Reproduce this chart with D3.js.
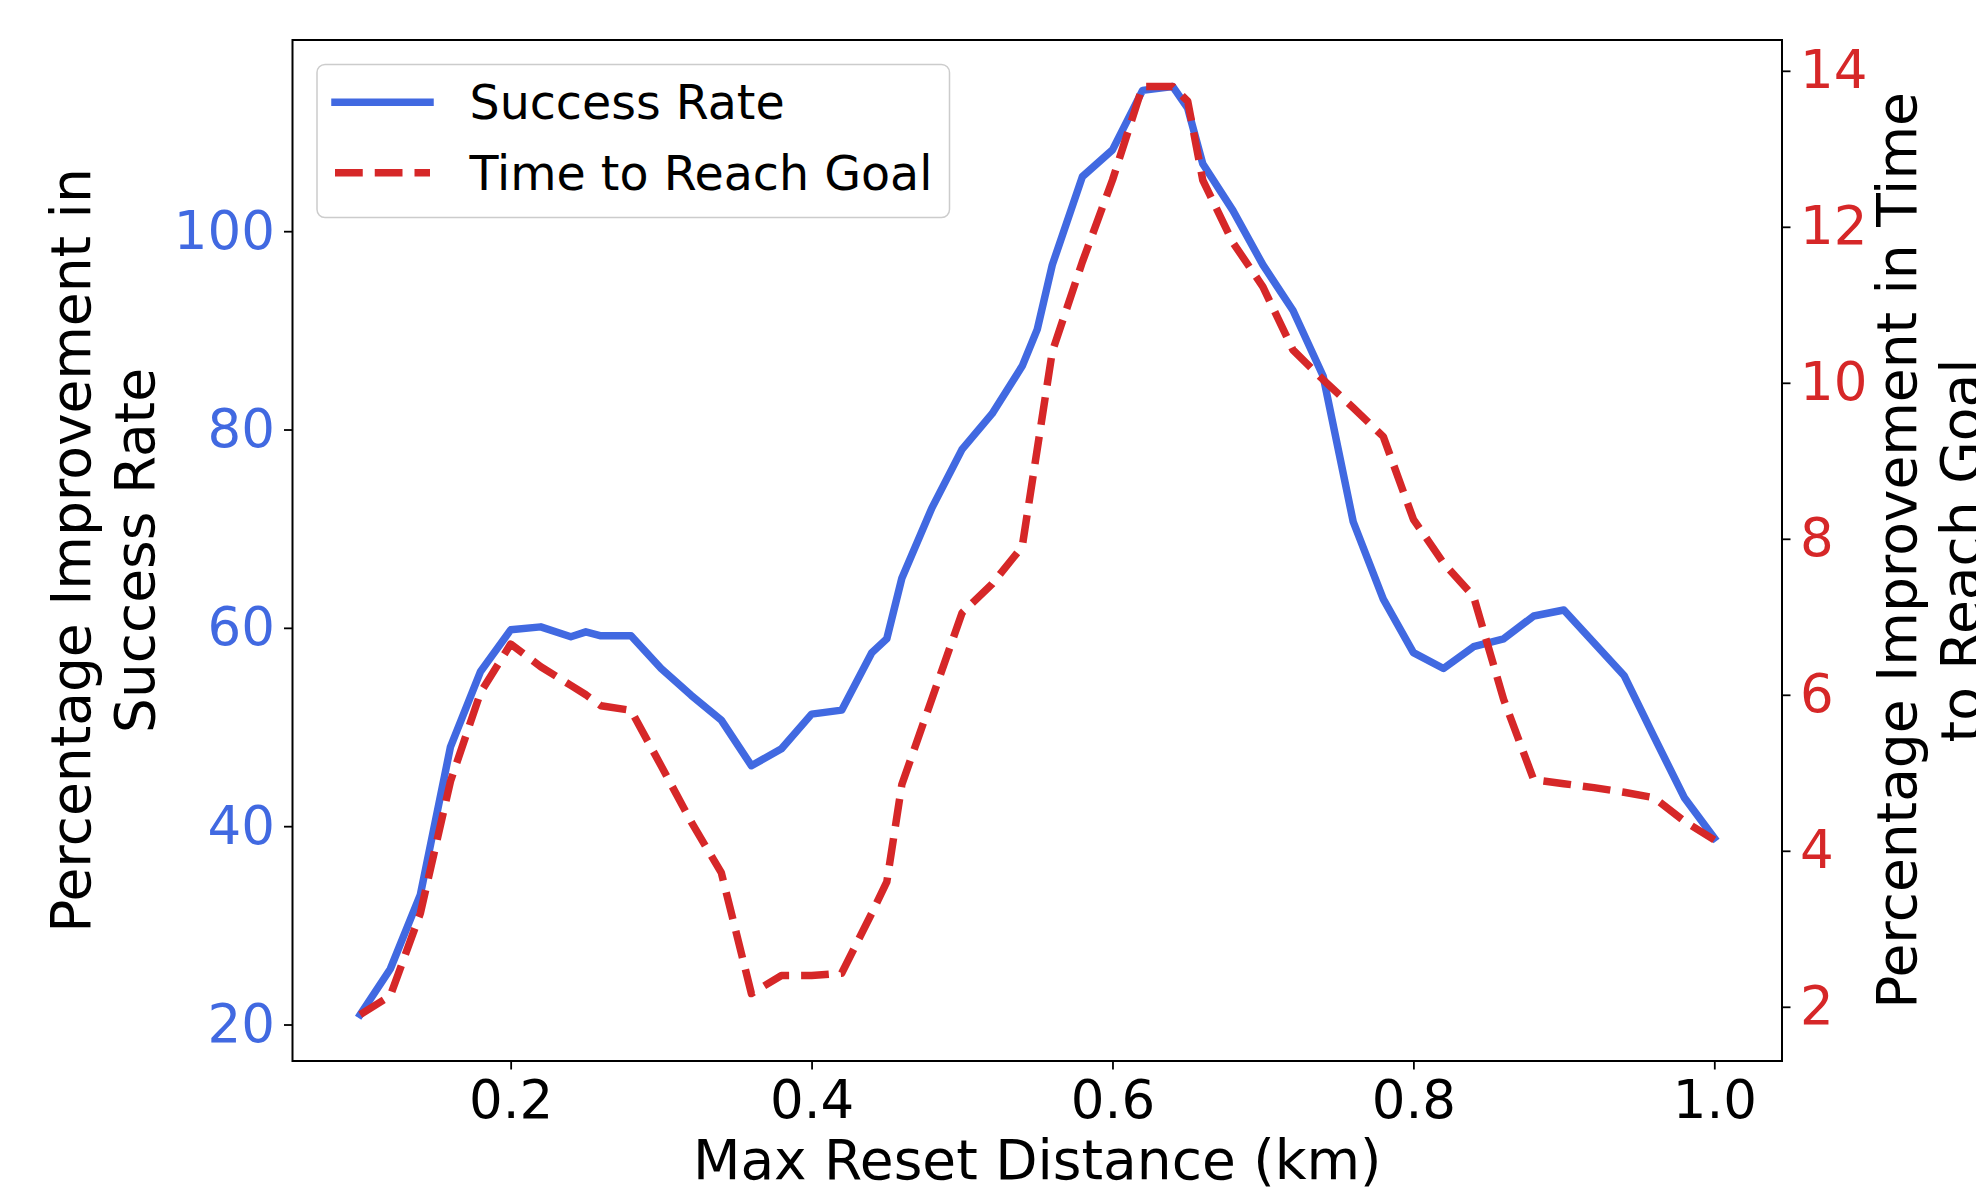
<!DOCTYPE html>
<html>
<head>
<meta charset="utf-8">
<script src="https://cdn.jsdelivr.net/npm/d3@7"></script>
<style>
  body { margin: 0; background: #fff; }
  svg { display: block; }
  text { font-family: "DejaVu Sans", sans-serif; }
</style>
</head>
<body>
<div id="chart-area"></div>
<script>
// values
const distances = [0.10, 0.12, 0.14, 0.16, 0.18, 0.20, 0.22, 0.24, 0.25, 0.26,
  0.28, 0.30, 0.32, 0.34, 0.36, 0.38, 0.40, 0.42, 0.44, 0.45,
  0.46, 0.48, 0.50, 0.52, 0.54, 0.55, 0.56, 0.58, 0.60, 0.62,
  0.64, 0.65, 0.66, 0.68, 0.70, 0.72, 0.74, 0.76, 0.78, 0.80,
  0.82, 0.84, 0.86, 0.88, 0.90, 0.92, 0.94, 0.96, 0.98, 1.00]

const successRate = [21.0, 25.6, 33.1, 48.0, 55.6, 59.8, 60.1, 59.1, 59.6, 59.2,
  59.2, 55.9, 53.2, 50.7, 46.1, 47.8, 51.3, 51.7, 57.5, 58.9,
  65.0, 72.1, 78.0, 81.6, 86.4, 90.1, 96.6, 105.5, 108.2, 114.2,
  114.6, 112.4, 106.8, 102.1, 96.6, 92.0, 85.4, 70.7, 62.9, 57.5,
  55.9, 58.1, 58.9, 61.2, 61.8, 58.5, 55.2, 49.0, 42.9, 38.8]

const timeToGoal = [1.90, 2.14, 3.20, 4.89, 6.03, 6.65, 6.36, 6.12, 6.00, 5.86,
  5.80, 5.09, 4.37, 3.72, 2.17, 2.40, 2.40, 2.43, 3.20, 3.60,
  4.85, 5.95, 7.05, 7.42, 7.90, 9.15, 10.40, 11.55, 12.60, 13.80,
  13.80, 13.61, 12.60, 11.80, 11.23, 10.42, 10.04, 9.68, 9.31, 8.25,
  7.69, 7.26, 5.94, 4.91, 4.86, 4.81, 4.75, 4.68, 4.38, 4.14]

const xTicks = [0.2, 0.4, 0.6, 0.8, 1.0]
const leftTicks = [20, 40, 60, 80, 100]
const rightTicks = [2, 4, 6, 8, 10, 12, 14]

const blue = "#4169e1"
const red = "#d62728"

const W = 1976, H = 1198
const plotL = 292.5, plotR = 1782, plotT = 40, plotB = 1061

// matplotlib style 5% padding
const pad = (arr) => {
  let lo = d3.min(arr), hi = d3.max(arr), r = hi - lo
  return [lo - 0.05 * r, hi + 0.05 * r]
}

let svg = d3.select("#chart-area").append("svg")
  .attr("width", W)
  .attr("height", H)

let x = d3.scaleLinear().domain(pad(distances)).range([plotL, plotR])
let yL = d3.scaleLinear().domain(pad(successRate)).range([plotB, plotT])
let yR = d3.scaleLinear().domain(pad(timeToGoal)).range([plotB, plotT])

const styleAxis = (g, color, size) => {
  g.select(".domain").remove()
  g.selectAll(".tick line").attr("stroke", "#000").attr("stroke-width", 1.8)
  g.selectAll(".tick text")
    .attr("fill", color)
    .style("font-size", size + "px")
    .style("font-family", "DejaVu Sans")
}

svg.append("g")
  .attr("transform", `translate(0,${plotB})`)
  .call(d3.axisBottom(x).tickValues(xTicks).tickFormat(d3.format(".1f")).tickSize(8.5).tickPadding(10.5))
  .call(g => styleAxis(g, "#000", 53))

svg.append("g")
  .attr("transform", `translate(${plotL},0)`)
  .call(d3.axisLeft(yL).tickValues(leftTicks).tickSize(8.5).tickPadding(9))
  .call(g => styleAxis(g, blue, 53))

svg.append("g")
  .attr("transform", `translate(${plotR},0)`)
  .call(d3.axisRight(yR).tickValues(rightTicks).tickSize(8.5).tickPadding(9.5))
  .call(g => styleAxis(g, red, 53))

// lines
let lineL = d3.line().x((d, i) => x(distances[i])).y(d => yL(d))
let lineR = d3.line().x((d, i) => x(distances[i])).y(d => yR(d))

svg.append("path")
  .datum(successRate)
  .attr("d", lineL)
  .attr("fill", "none")
  .attr("stroke", blue)
  .attr("stroke-width", 7.5)
  .attr("stroke-linejoin", "round")
  .attr("stroke-linecap", "square")

svg.append("path")
  .datum(timeToGoal)
  .attr("d", lineR)
  .attr("fill", "none")
  .attr("stroke", red)
  .attr("stroke-width", 7.5)
  .attr("stroke-linejoin", "round")
  .attr("stroke-dasharray", "27.75,12")

// frame
svg.append("rect")
  .attr("x", plotL)
  .attr("y", plotT)
  .attr("width", plotR - plotL)
  .attr("height", plotB - plotT)
  .attr("fill", "none")
  .attr("stroke", "#000")
  .attr("stroke-width", 2)

// axis titles
svg.append("text")
  .attr("x", (plotL + plotR) / 2)
  .attr("y", 1179)
  .attr("text-anchor", "middle")
  .style("font-size", "55px")
  .text("Max Reset Distance (km)")

const vLabel = (lines, xs) => {
  lines.forEach((t, i) => {
    svg.append("text")
      .attr("transform", `translate(${xs[i]},${(plotT + plotB) / 2}) rotate(-90)`)
      .attr("text-anchor", "middle")
      .style("font-size", "55px")
      .text(t)
  })
}
vLabel(["Percentage Improvement in", "Success Rate"], [90, 154])
// second line runs off the right edge, as in the original figure
vLabel(["Percentage Improvement in Time", "to Reach Goal"], [1916, 1980])

// legend
let legend = svg.append("g")
legend.append("rect")
  .attr("x", 317).attr("y", 64.5)
  .attr("width", 632.5).attr("height", 153)
  .attr("rx", 8)
  .attr("fill", "#fff").attr("fill-opacity", 0.8)
  .attr("stroke", "#cccccc").attr("stroke-width", 1.5)

const legendItems = [
  { name: "Success Rate", color: blue, dash: null, cap: "square", y: 102.3 },
  { name: "Time to Reach Goal", color: red, dash: "27.75,12", cap: "butt", y: 172.7 }
]

legendItems.forEach(item => {
  legend.append("line")
    .attr("x1", 335).attr("x2", 430)
    .attr("y1", item.y).attr("y2", item.y)
    .attr("stroke", item.color)
    .attr("stroke-width", 7.5)
    .attr("stroke-linecap", item.cap)
    .attr("stroke-dasharray", item.dash)
  legend.append("text")
    .attr("x", 469.5)
    .attr("y", item.y + 17)
    .style("font-size", "47.5px")
    .text(item.name)
})
</script>
</body>
</html>
